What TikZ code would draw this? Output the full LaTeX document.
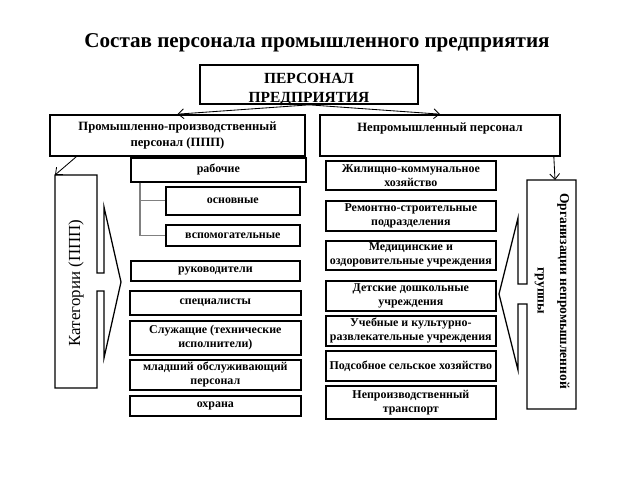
\documentclass[tikz,border=0pt]{standalone}
\usepackage{fontspec}
\setmainfont{Liberation Serif}
\usetikzlibrary{positioning,calc,arrows.meta}

\tikzset{
  box/.style={draw, line width=1.2pt, inner sep=1pt, align=center,
    font=\fontsize{8.5}{10}\selectfont\bfseries},
  callout/.style={draw, line width=0.9pt, line join=miter},
  tick/.style={gray, line width=0.8pt},
  link/.style={-{Straight Barb[length=4pt,width=7pt]}, line width=0.6pt},
}

\begin{document}
\begin{tikzpicture}[x=0.025cm,y=-0.025cm]
    \useasboundingbox (0,0) rectangle (640,480);
    % Title
    \node[font=\fontsize{15}{18}\selectfont\bfseries] (title) at (317,43)
        {Состав персонала промышленного предприятия};

    % Top levels
    \node[box, minimum width=218*0.025cm, minimum height=39*0.025cm, text height=25pt, text depth=0pt,
        font=\fontsize{11}{13}\selectfont\bfseries] (pers) at (309,84.5) {ПЕРСОНАЛ\\ПРЕДПРИЯТИЯ};
    \node[box, minimum width=255*0.025cm, minimum height=41*0.025cm,
        font=\fontsize{9}{12}\selectfont\bfseries] (ppp) at (177.5,135.5) {Промышленно-производственный\\персонал (ППП)};
    \node[box, minimum width=240*0.025cm, minimum height=41*0.025cm,
        font=\fontsize{9}{12}\selectfont\bfseries] (nepp) at (440,135.5) {Непромышленный персонал\\~};
    \draw[link] (pers.south) -- (ppp.north);
    \draw[link] (pers.south) -- (nepp.north);

    % Callouts
    \coordinate (catL) at (55,175);
    \coordinate (orgR) at (555,180);
    \draw[callout] (catL) -- (97,175) -- (97,273) -- (104,273) -- (104,207) -- (121,282)
        -- (104,358) -- (104,291) -- (97,291) -- (97,388) -- (55,388) -- cycle;
    \node[rotate=90, font=\fontsize{12}{14}\selectfont] (cat) at (76,283) {Категории (ППП)};
    \draw[callout] (527,180) -- (576,180) -- (576,409) -- (527,409) -- (527,304) -- (518,304)
        -- (518,370) -- (499,294) -- (518,218) -- (518,284) -- (527,284) -- cycle;
    \node[rotate=-90, align=center, font=\fontsize{9.6}{16}\selectfont\bfseries] (org) at (552,291)
        {Организации непромышленной\\группы};
    \draw[link] ($(ppp.south west)+(27,0)$) -- (catL);
    \draw[link] ($(nepp.south east)+(-7,0)$) -- (orgR);

    % Left column
    \foreach \n/\x/\y/\w/\h/\txt in {rab/130/157/175/24/рабочие,
        osn/165/186/134/28/основные, vsp/165/224/134/21/вспомогательные,
        ruk/130/260/169/20/руководители, spec/129/290/171/24/специалисты,
        sluzh/129/320/171/34/Служащие (технические\\исполнители),
        mlad/129/359/171/30/младший обслуживающий\\персонал,
        ohr/129/395/171/20/охрана} {
        \node[box, anchor=north west, minimum width=\w*0.025cm, minimum height=\h*0.025cm]
            (\n) at (\x,\y) {\txt};
    }
    \draw[tick] ($(rab.south west)+(10,0)$) |- (osn.west);
    \draw[tick] ($(rab.south west)+(10,0)$) |- (vsp.west);

    % Right column
    \foreach \n/\y/\h/\txt in {zhil/160/29/Жилищно-коммунальное\\хозяйство,
        rem/200/30/Ремонтно-строительные\\подразделения,
        med/240/29/Медицинские и\\оздоровительные учреждения,
        det/280/30/Детские дошкольные\\учреждения,
        ucheb/315/30/Учебные и культурно-\\развлекательные учреждения,
        pods/350/30/Подсобное сельское хозяйство,
        netr/385/33/Непроизводственный\\транспорт} {
        \node[box, anchor=north west, minimum width=170*0.025cm, minimum height=\h*0.025cm]
            (\n) at (325,\y) {\txt};
    }
\end{tikzpicture}
\end{document}
